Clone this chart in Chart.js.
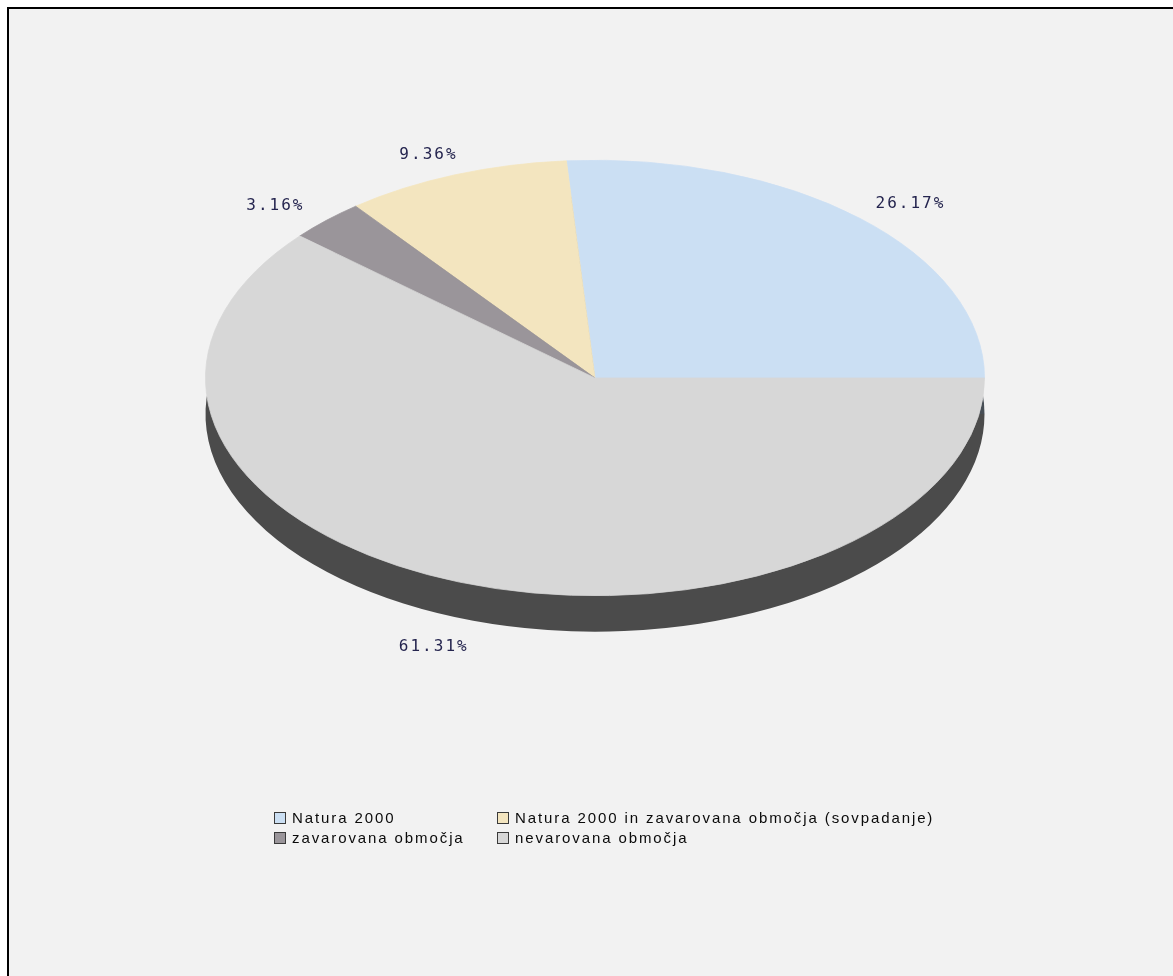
<!DOCTYPE html>
<html>
<head>
<meta charset="utf-8">
<title>Natura 2000 - deleži površine</title>
<script src="https://cdn.jsdelivr.net/npm/chart.js@4.4.1/dist/chart.umd.min.js"></script>
<style>
  html, body { margin: 0; padding: 0; background: #fff; overflow: hidden; }
  #frame { position: absolute; left: 7px; top: 7px; width: 1200px; height: 1000px; border: 2px solid #000; background: #f2f2f2; }
  #chart { position: absolute; left: 0; top: 0; }
  #legend { position: absolute; left: 274px; top: 809px; display: grid; grid-template-columns: 223px auto; row-gap: 2px;
            font: 15px "Liberation Sans", Arial, sans-serif; letter-spacing: 1.9px; color: #0a0a0a; }
  #legend div { height: 18px; line-height: 18px; white-space: nowrap; }
  #legend span.box { display: inline-block; width: 10px; height: 10px; border: 1px solid #3a3a3a; margin-right: 6px; vertical-align: -1px; }
</style>
</head>
<body>
<div id="frame"></div>
<canvas id="chart" width="1173" height="976"></canvas>
<div id="legend"></div>
<script>
  var categories = ['Natura 2000', 'Natura 2000 in zavarovana območja (sovpadanje)', 'zavarovana območja', 'nevarovana območja'];
  var shares = [26.17, 9.36, 3.16, 61.31];
  var colors = ['#cbdff3', '#f3e5bf', '#9a959a', '#d7d7d7'];

  // 3d look
  var CENTER_Y = 378;
  var TILT = 218 / 390;
  var DEPTH = 36;
  var LABEL_KX = 1.19, LABEL_KY = 1.12, LABEL_DY = 4;

  function darken(hex, f) {
    var n = parseInt(hex.slice(1), 16);
    var r = Math.round(((n >> 16) & 255) * f), g = Math.round(((n >> 8) & 255) * f), b = Math.round((n & 255) * f);
    return 'rgb(' + r + ',' + g + ',' + b + ')';
  }

  var tiltPlugin = {
    id: 'tilt',
    beforeDatasetsDraw: function(chart) {
      var ctx = chart.ctx;
      var meta = chart.getDatasetMeta(0);
      var a0 = meta.data[0];
      var cx = a0.x, cy = a0.y, r = a0.outerRadius;
      // side wall
      ctx.save();
      ctx.translate(cx, CENTER_Y + DEPTH);
      ctx.scale(1, -TILT);
      ctx.translate(-cx, -cy);
      meta.data.forEach(function(a, i) {
        ctx.beginPath();
        ctx.moveTo(cx, cy);
        ctx.arc(cx, cy, r, a.startAngle, a.endAngle);
        ctx.closePath();
        ctx.fillStyle = darken(colors[i], 0.35);
        ctx.fill();
      });
      ctx.restore();
      // top face, drawn by chart.js
      ctx.save();
      ctx.translate(cx, CENTER_Y);
      ctx.scale(1, -TILT);
      ctx.translate(-cx, -cy);
    },
    afterDatasetsDraw: function(chart) {
      chart.ctx.restore();
    },
    afterDraw: function(chart) {
      var ctx = chart.ctx;
      var meta = chart.getDatasetMeta(0);
      var a0 = meta.data[0];
      var cx = a0.x, r = a0.outerRadius;
      ctx.save();
      ctx.font = '16px "DejaVu Sans Mono"';
      ctx.letterSpacing = '2px';
      ctx.fillStyle = '#25254f';
      ctx.textAlign = 'center';
      ctx.textBaseline = 'middle';
      meta.data.forEach(function(a, i) {
        var mid = (a.startAngle + a.endAngle) / 2;
        var dx = r * LABEL_KX * Math.cos(mid);
        var dy = -TILT * r * LABEL_KY * Math.sin(mid);
        var y = CENTER_Y + dy + (dy > 0 ? DEPTH : 0) + LABEL_DY;
        ctx.fillText(shares[i].toFixed(2) + '%', cx + dx, y);
      });
      ctx.restore();
    }
  };

  var chart = new Chart(document.getElementById('chart').getContext('2d'), {
    type: 'pie',
    data: {
      labels: categories,
      datasets: [{ data: shares, backgroundColor: colors, borderColor: colors, borderWidth: 1, clip: false }]
    },
    options: {
      responsive: false,
      animation: false,
      rotation: 90,
      layout: { padding: { left: 205, right: 188, top: 98, bottom: 98 } },
      plugins: { legend: { display: false }, tooltip: { enabled: false } }
    },
    plugins: [tiltPlugin]
  });

  var items = Chart.overrides.pie.plugins.legend.labels.generateLabels(chart);
  var leg = document.getElementById('legend');
  items.forEach(function(it) {
    var d = document.createElement('div');
    var b = document.createElement('span');
    b.className = 'box';
    b.style.background = it.fillStyle;
    d.appendChild(b);
    d.appendChild(document.createTextNode(it.text));
    leg.appendChild(d);
  });
</script>
</body>
</html>
